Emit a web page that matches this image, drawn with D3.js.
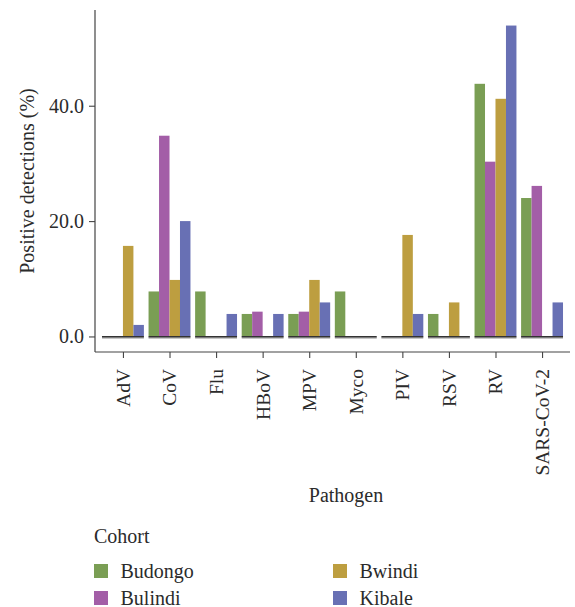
<!DOCTYPE html>
<html>
<head>
<meta charset="utf-8">
<script src="https://cdn.jsdelivr.net/npm/d3@7"></script>
<style>
  body { margin: 0; background: #fff; }
  svg { display: block; }
</style>
</head>
<body>
<svg id="chart" width="575" height="607" font-family="Liberation Serif"></svg>
<script>
// Pathogens on the x axis
const pathogens = ["AdV", "CoV", "Flu", "HBoV", "MPV", "Myco", "PIV", "RSV", "RV", "SARS-CoV-2"];
// Cohorts (dodged bars within each pathogen)
const cohorts = ["Budongo", "Bulindi", "Bwindi", "Kibale"];
const cohortColors = ["#7a9e54", "#a35ea7", "#bd9e40", "#6870b4"];

// Positive detections (%) per cohort, in pathogen order
const budongo = [0, 7.8, 7.8, 3.9, 3.9, 7.8, 0, 3.9, 43.8, 24.0];
const bulindi = [0, 34.8, 0, 4.3, 4.3, 0, 0, 0, 30.3, 26.1];
const bwindi  = [15.7, 9.8, 0, 0, 9.8, 0, 17.6, 5.9, 41.2, 0];
const kibale  = [2.0, 20.0, 3.9, 3.9, 5.9, 0, 3.9, 0, 53.9, 5.9];

const yTicks = [0, 20, 40];

const FONT = "'Liberation Serif', serif";
const INK = "#2b2b2b";

const seriesValues = [budongo, bulindi, bwindi, kibale];
const rows = [];
pathogens.forEach((p, i) => {
  cohorts.forEach((c, j) => rows.push({ pathogen: p, cohort: c, value: seriesValues[j][i] }));
});

const svg = d3.select("#chart");
const panel = { left: 95, right: 570, top: 10, bottom: 352 };

const maxV = d3.max(rows, d => d.value);
const pad = maxV * 0.05;
const y = d3.scaleLinear().domain([-pad, maxV + pad]).range([panel.bottom, panel.top]);

// Discrete positions 1..n with 0.6 unit expansion on each side
const unit = (panel.right - panel.left) / (pathogens.length + 0.2);
const xPos = d3.scalePoint().domain(pathogens)
  .range([panel.left + unit * 0.6, panel.right - unit * 0.6]);
const groupW = unit * 0.9;
const xInner = d3.scaleBand().domain(cohorts).range([0, groupW]);
const color = d3.scaleOrdinal().domain(cohorts).range(cohortColors);

// Bars
svg.append("g").selectAll("rect").data(rows).join("rect")
  .attr("x", d => xPos(d.pathogen) - groupW / 2 + xInner(d.cohort))
  .attr("width", xInner.bandwidth())
  .attr("y", d => y(d.value))
  .attr("height", d => y(0) - y(d.value))
  .attr("fill", d => color(d.cohort));

// Zero baseline under each pathogen group
const base = svg.append("g");
base.selectAll("line.shadow").data(pathogens).join("line")
  .attr("class", "shadow")
  .attr("x1", d => xPos(d) - groupW / 2).attr("x2", d => xPos(d) + groupW / 2)
  .attr("y1", y(0) + 1.6).attr("y2", y(0) + 1.6)
  .attr("stroke", "#b5b5b5").attr("stroke-width", 1.6);
base.selectAll("line.zero").data(pathogens).join("line")
  .attr("class", "zero")
  .attr("x1", d => xPos(d) - groupW / 2).attr("x2", d => xPos(d) + groupW / 2)
  .attr("y1", y(0) + 0.3).attr("y2", y(0) + 0.3)
  .attr("stroke", "#333").attr("stroke-width", 1.3);

// Y axis
const yAxis = svg.append("g").attr("transform", `translate(${panel.left},0)`)
  .call(d3.axisLeft(y).tickValues(yTicks).tickFormat(d3.format(".1f")).tickSize(6).tickPadding(5));
yAxis.attr("font-family", null);
yAxis.select(".domain").attr("d", `M0,${panel.top}V${panel.bottom}`).attr("stroke", "#444").attr("stroke-width", 1.2);
yAxis.selectAll(".tick line").attr("stroke", "#444").attr("stroke-width", 1.1);
yAxis.selectAll(".tick text").style("font-size", "20px").attr("fill", INK)
  .style("font-family", FONT);

// X axis
const xAxis = svg.append("g").attr("transform", `translate(0,${panel.bottom})`)
  .call(d3.axisBottom(xPos).tickSize(6).tickPadding(0));
xAxis.attr("font-family", null);
xAxis.select(".domain").attr("d", `M${panel.left},0H${panel.right}`).attr("stroke", "#444").attr("stroke-width", 1.2);
xAxis.selectAll(".tick line").attr("stroke", "#444").attr("stroke-width", 1.1);
xAxis.selectAll(".tick text")
  .style("font-size", "19.5px").attr("fill", INK)
  .style("font-family", FONT)
  .attr("text-anchor", "end")
  .attr("transform", "translate(0,17) rotate(-90)")
  .attr("x", 0).attr("y", 0).attr("dy", "0.33em");

// Axis titles
svg.append("text")
  .attr("transform", `translate(34,${(panel.top + panel.bottom) / 2}) rotate(-90)`)
  .attr("text-anchor", "middle")
  .style("font-family", FONT).style("font-size", "20px").attr("fill", INK)
  .text("Positive detections (%)");

svg.append("text")
  .attr("x", 346).attr("y", 502)
  .attr("text-anchor", "middle")
  .style("font-family", FONT).style("font-size", "20px").attr("fill", INK)
  .text("Pathogen");

// Legend
const legend = svg.append("g");
legend.append("text").attr("x", 94).attr("y", 542.5)
  .style("font-family", FONT).style("font-size", "20px").attr("fill", INK)
  .text("Cohort");
const legendPos = [[94, 564], [94, 591], [333, 564], [333, 591]];
const item = legend.selectAll("g.item").data(cohorts).join("g")
  .attr("class", "item")
  .attr("transform", (d, i) => `translate(${legendPos[i][0]},${legendPos[i][1]})`);
item.append("rect").attr("width", 14).attr("height", 14).attr("fill", d => color(d));
item.append("text").attr("x", 26.5).attr("y", 13.5)
  .style("font-family", FONT).style("font-size", "20px").attr("fill", INK)
  .text(d => d);
</script>
</body>
</html>
